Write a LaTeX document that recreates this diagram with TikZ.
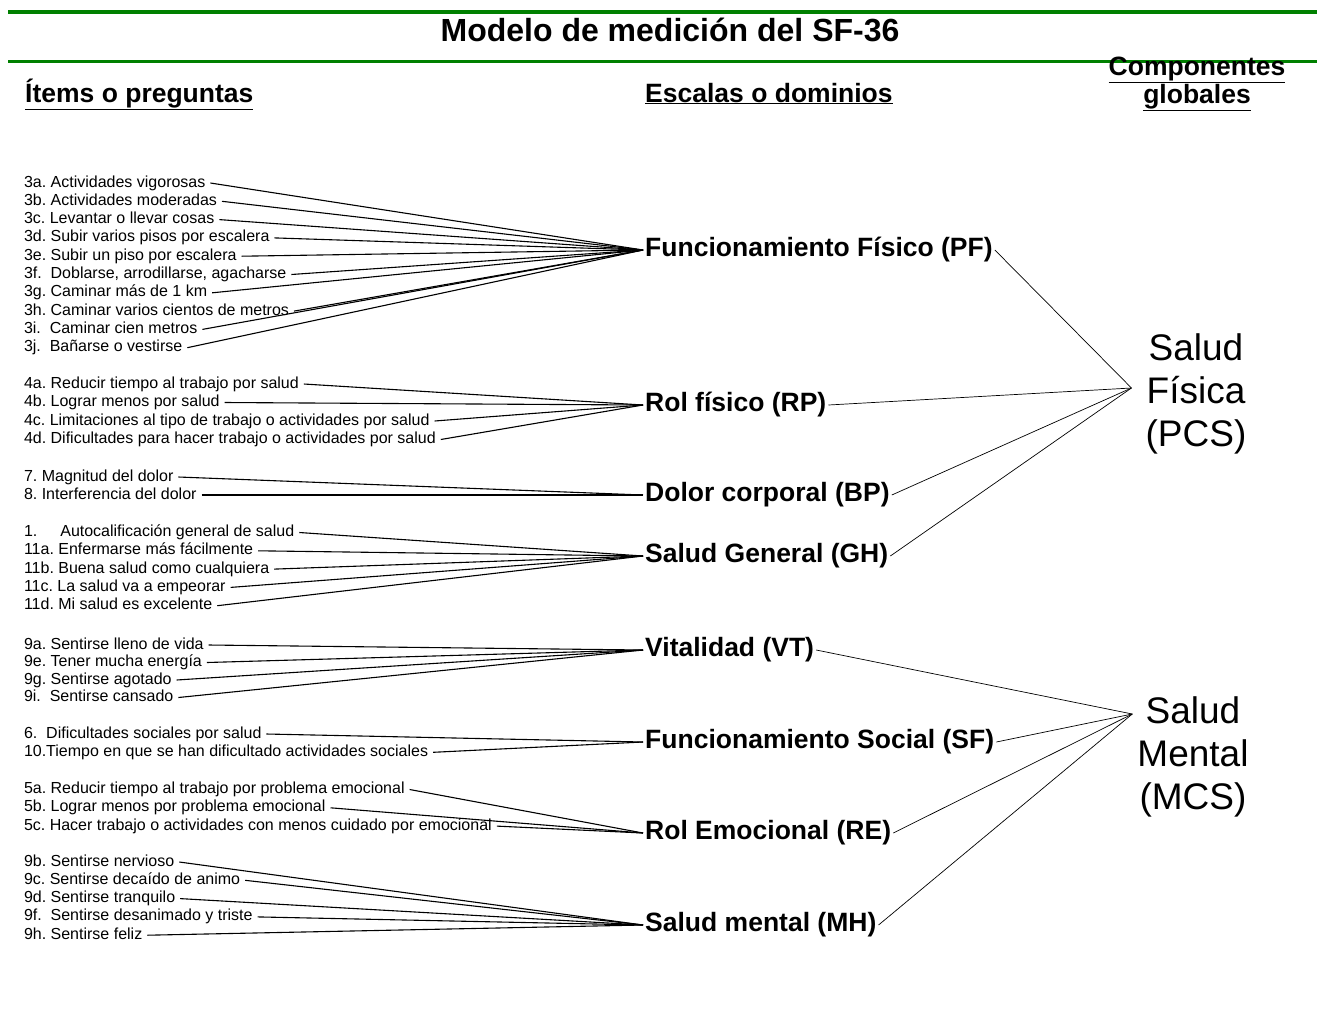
\documentclass[tikz,border=0pt]{standalone}
\usepackage{fontspec}
\setmainfont{Liberation Sans}
\usepackage{xcolor}
\usepackage{tikz}
\usetikzlibrary{calc}
\frenchspacing
\definecolor{rulegreen}{RGB}{0,128,0}
\tikzset{
  item/.style={anchor=west,inner sep=0pt,outer xsep=5pt,text height=11.5pt,text depth=3.5pt,font=\fontsize{16}{18}\selectfont},
  dominio/.style={anchor=west,inner xsep=2pt,inner ysep=0pt,text height=19pt,text depth=5.5pt,font=\fontsize{26.5}{30}\selectfont\bfseries},
  componente/.style={align=center,inner ysep=0pt,font=\fontsize{37}{43}\selectfont},
  cabecera/.style={inner sep=0pt,font=\fontsize{26.5}{26}\selectfont\bfseries},
  itemline/.style={line width=1.1pt},
  compline/.style={line width=0.7pt}
}

\begin{document}
\begin{tikzpicture}[x=1pt,y=-1pt]
  \useasboundingbox (0,0) rectangle (1317,1013);
  % titulo y cabeceras
  \draw[rulegreen,line width=4pt] (8,12) -- (1317,12);
  \draw[rulegreen,line width=2.5pt] (8,61.5) -- (1317,61.5);
  \node[cabecera,font=\fontsize{32}{36}\selectfont\bfseries,anchor=base] (titulo) at (670,41) {Modelo de medición del SF-36};
  \node[cabecera,anchor=base west] (hItems) at (25,102) {\underline{Ítems o preguntas}};
  \node[cabecera,anchor=base west] (hEscalas) at (645,102) {\underline{Escalas o dominios}};
  \node[cabecera,align=center,anchor=north] (hComp) at (1197,57) {\underline{Componentes}\\\underline{globales}};

  % componentes globales
  \node[componente,inner xsep=14pt] (PCS) at (1196,394) {Salud\\Física\\(PCS)};
  \node[componente,inner xsep=5pt] (MCS) at (1193,757) {Salud\\Mental\\(MCS)};
  \coordinate (phub) at ($(PCS.west)+(0,-6)$);
  \coordinate (mhub) at ($(MCS.west)+(0,-43)$);

  % escalas
  \node[dominio] (PF) at (643,250) {Funcionamiento Físico (PF)};
  \node[dominio] (RP) at (643,405) {Rol físico (RP)};
  \node[dominio] (BP) at (643,495) {Dolor corporal (BP)};
  \node[dominio] (GH) at (643,556) {Salud General (GH)};
  \node[dominio] (VT) at (643,650) {Vitalidad (VT)};
  \node[dominio] (SF) at (643,742) {Funcionamiento Social (SF)};
  \node[dominio] (RE) at (643,833) {Rol Emocional (RE)};
  \node[dominio] (MH) at (643,925) {Salud mental (MH)};

  % funcionamiento fisico
  \node[item] (i3a) at (19,183) {3a. Actividades vigorosas};
  \node[item] (i3b) at (19,201.3) {3b. Actividades moderadas};
  \node[item] (i3c) at (19,219.6) {3c. Levantar o llevar cosas};
  \node[item] (i3d) at (19,237.9) {3d. Subir varios pisos por escalera};
  \node[item] (i3e) at (19,256.2) {3e. Subir un piso por escalera};
  \node[item] (i3f) at (19,274.5) {3f.\ \ Doblarse, arrodillarse, agacharse};
  \node[item] (i3g) at (19,292.8) {3g. Caminar más de 1 km};
  \node[item] (i3h) at (19,311.1) {3h. Caminar varios cientos de metros};
  \node[item] (i3i) at (19,329.4) {3i.\ \ Caminar cien metros};
  \node[item] (i3j) at (19,347.7) {3j.\ \ Bañarse o vestirse};
  \foreach \i in {3a,3b,3c,3d,3e,3f,3g,3h,3i,3j}
    \draw[itemline] (i\i.east) -- (PF.west);

  % rol fisico
  \node[item] (i4a) at (19,384) {4a. Reducir tiempo al trabajo por salud};
  \node[item] (i4b) at (19,402.5) {4b. Lograr menos por salud};
  \node[item] (i4c) at (19,421) {4c. Limitaciones al tipo de trabajo o actividades por salud};
  \node[item] (i4d) at (19,439.5) {4d. Dificultades para hacer trabajo o actividades por salud};
  \foreach \i in {4a,4b,4c,4d}
    \draw[itemline] (i\i.east) -- (RP.west);

  % dolor
  \node[item] (i7) at (19,477) {7. Magnitud del dolor};
  \node[item] (i8) at (19,495) {8. Interferencia del dolor};
  \foreach \i in {7,8}
    \draw[itemline] (i\i.east) -- (BP.west);

  % salud general
  \node[item] (i1) at (19,532.5) {1.\hspace{23pt}Autocalificación general de salud};
  \node[item] (i11a) at (19,550.8) {11a. Enfermarse más fácilmente};
  \node[item] (i11b) at (19,569.1) {11b. Buena salud como cualquiera};
  \node[item] (i11c) at (19,587.4) {11c. La salud va a empeorar};
  \node[item] (i11d) at (19,605.7) {11d. Mi salud es excelente};
  \foreach \i in {1,11a,11b,11c,11d}
    \draw[itemline] (i\i.east) -- (GH.west);

  % vitalidad
  \node[item] (i9a) at (19,645) {9a. Sentirse lleno de vida};
  \node[item] (i9e) at (19,662.5) {9e. Tener mucha energía};
  \node[item] (i9g) at (19,680) {9g. Sentirse agotado};
  \node[item] (i9i) at (19,697.5) {9i.\ \ Sentirse cansado};
  \foreach \i in {9a,9e,9g,9i}
    \draw[itemline] (i\i.east) -- (VT.west);

  % funcionamiento social
  \node[item] (i6) at (19,734) {6.\ \ Dificultades sociales por salud};
  \node[item] (i10) at (19,752.3) {10.Tiempo en que se han dificultado actividades sociales};
  \foreach \i in {6,10}
    \draw[itemline] (i\i.east) -- (SF.west);

  % rol emocional
  \node[item] (i5a) at (19,789.5) {5a. Reducir tiempo al trabajo por problema emocional};
  \node[item] (i5b) at (19,807.8) {5b. Lograr menos por problema emocional};
  \node[item] (i5c) at (19,826.1) {5c. Hacer trabajo o actividades con menos cuidado por emocional};
  \foreach \i in {5a,5b,5c}
    \draw[itemline] (i\i.east) -- (RE.west);

  % salud mental
  \node[item] (i9b) at (19,862) {9b. Sentirse nervioso};
  \node[item] (i9c) at (19,880.3) {9c. Sentirse decaído de animo};
  \node[item] (i9d) at (19,898.6) {9d. Sentirse tranquilo};
  \node[item] (i9f) at (19,916.9) {9f.\ \ Sentirse desanimado y triste};
  \node[item] (i9h) at (19,935.2) {9h. Sentirse feliz};
  \foreach \i in {9b,9c,9d,9f,9h}
    \draw[itemline] (i\i.east) -- (MH.west);

  % escalas a componentes
  \foreach \d in {PF,RP,BP,GH}
    \draw[compline] (\d.east) -- (phub);
  \foreach \d in {VT,SF,RE,MH}
    \draw[compline] (\d.east) -- (mhub);
\end{tikzpicture}
\end{document}
